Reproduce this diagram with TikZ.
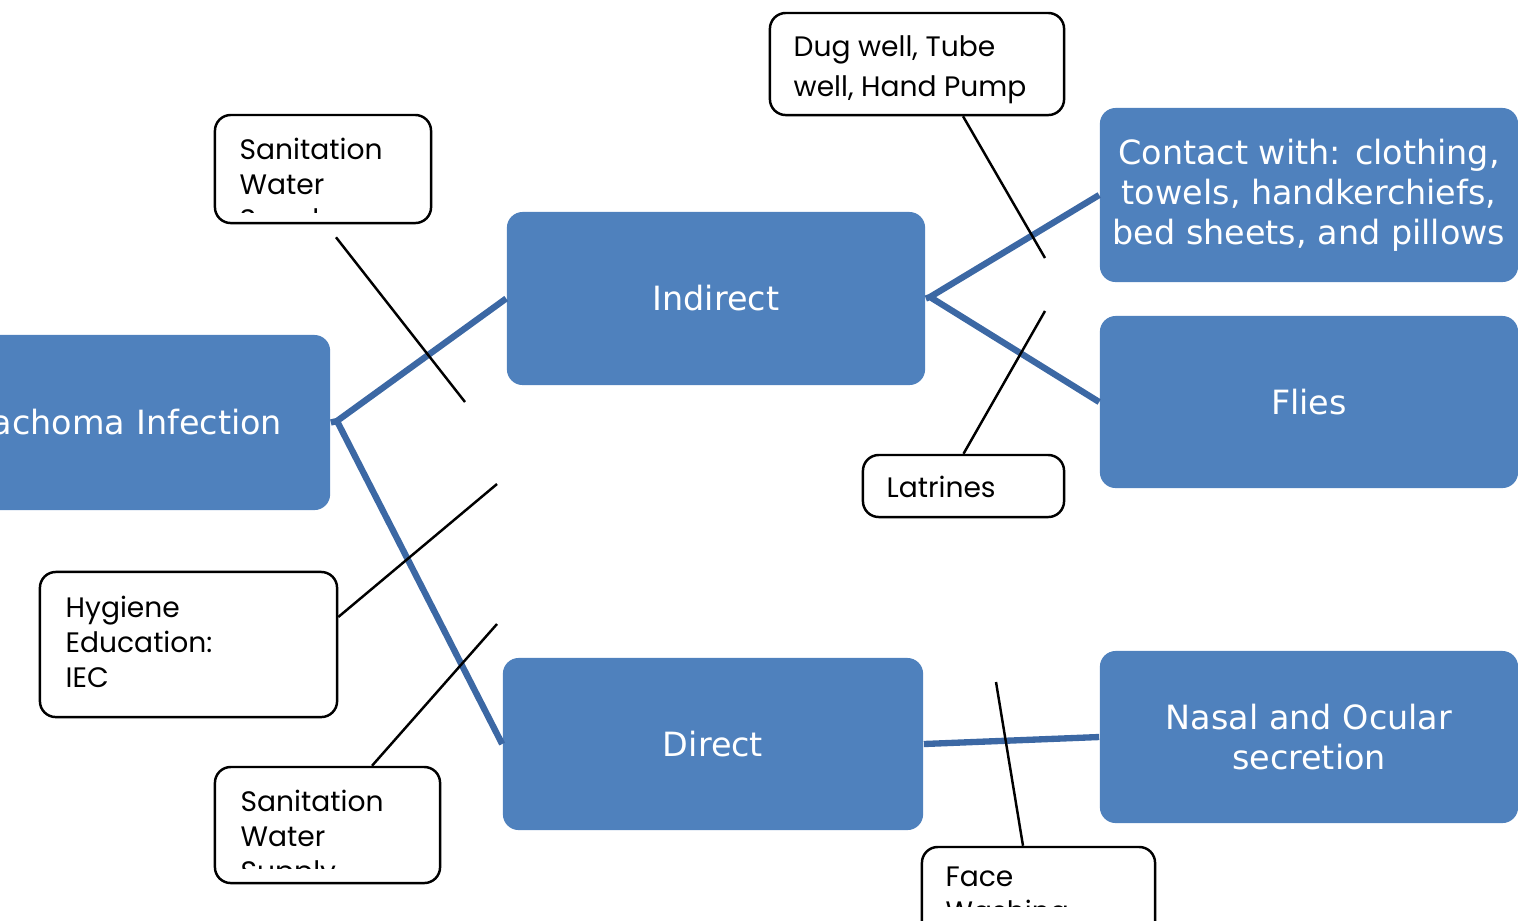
\documentclass[tikz,border=0pt]{standalone}
\usepackage{fontspec}
\usepackage{tikz}
\usetikzlibrary{calc}
\newfontfamily\causefont{DejaVu Sans}
\newfontfamily\notefont{Poppins}
\definecolor{boxblue}{HTML}{4F81BD}
\definecolor{linkblue}{HTML}{3C68A4}
\tikzset{
    cause/.style={
        rectangle,
        rounded corners=4.5pt,
        fill=boxblue,
        text=white,
        align=center,
        inner sep=0pt,
        font=\causefont\fontsize{9.5}{11.4}\selectfont,
    },
    note/.style={
        rectangle,
        rounded corners=4.5pt,
        draw=black,
        line width=0.7pt,
        fill=white,
        inner sep=0pt,
    },
    notetext/.style={
        anchor=north west,
        align=left,
        inner sep=0pt,
        font=\notefont\fontsize{8}{10}\selectfont,
    },
    link/.style={
        draw=linkblue,
        line width=1.8pt,
    },
    pointer/.style={
        draw=black,
        line width=0.7pt,
    },
}

\begin{document}
\begin{tikzpicture}[x=0.01cm, y=-0.01cm]

\useasboundingbox (0,0) rectangle (1518,920);

% Trachoma Infection
\node
[
    cause,
    text width=4.34cm,
    inner xsep=0.48cm,
    minimum height=1.75cm,
    align=right
] (trachoma) at (65,422.5)
{%
    Trachoma Infection%
};
% Indirect
\node
[
    cause,
    minimum width=4.18cm,
    minimum height=1.73cm
] (indirect) at (716,298.5)
{%
    Indirect%
};
% Direct
\node
[
    cause,
    minimum width=4.20cm,
    minimum height=1.72cm
] (direct) at (713,744)
{%
    Direct%
};
% Contact
\node
[
    cause,
    minimum width=4.18cm,
    minimum height=1.74cm
] (contact) at (1309,195)
{%
    Contact with: clothing,\\
    towels, handkerchiefs,\\
    bed sheets, and pillows%
};
% Flies
\node
[
    cause,
    minimum width=4.18cm,
    minimum height=1.72cm
] (flies) at (1309,402)
{%
    Flies%
};
% Nasal and Ocular
\node
[
    cause,
    minimum width=4.18cm,
    minimum height=1.72cm
] (nasal) at (1309,737)
{%
    Nasal and Ocular\\
    secretion%
};

% Links
\coordinate (hub_l) at (337,421);
\coordinate (hub_r) at (930,297);
\path [link]
    (trachoma.east) -- (hub_l)
    (hub_l) -- (indirect.west)
    (hub_l) -- (direct.west)
    (indirect.east) -- (hub_r)
    (hub_r) -- (contact.west)
    (hub_r) -- (flies.west)
    (direct.east) -- (nasal.west);

% Notes
\node [note, minimum width=2.16cm, minimum height=1.08cm] (san_a) at (323,169) {};
\node [note, minimum width=2.94cm, minimum height=1.02cm] (dug) at (917,64) {};
\node [note, minimum width=2.01cm, minimum height=0.62cm] (latrines) at (963.5,486) {};
\node [note, minimum width=2.97cm, minimum height=1.45cm] (hygiene) at (188.5,644.5) {};
\node [note, minimum width=2.25cm, minimum height=1.16cm] (san_b) at (327.5,825) {};
\node [note, minimum width=2.33cm, minimum height=1.13cm] (face) at (1038.5,903.5) {};

\begin{scope}
    \clip (216,116) rectangle (430,212);
    \node [notetext] (san_a_txt) at (239,137) {Sanitation\\ Water\\ Supply};
\end{scope}
\node [notetext, font=\notefont\fontsize{8}{11.4}\selectfont] (dug_txt) at (793,35) {Dug well, Tube\\ well, Hand Pump};
\node [notetext] (latrines_txt) at (886,475) {Latrines};
\node [notetext] (hygiene_txt) at (65,595) {Hygiene\\ Education:\\ IEC};
\begin{scope}
    \clip (216,768) rectangle (439,868);
    \node [notetext] (san_b_txt) at (240,789) {Sanitation\\ Water\\ Supply};
\end{scope}
\begin{scope}
    \clip (923,848) rectangle (1154,906);
    \node [notetext] (face_txt) at (945,866) {Face\\ Washing};
\end{scope}

% Pointers
\coordinate (tip_san_a) at (465,402);
\coordinate (tip_dug) at (1045,258);
\coordinate (tip_latrines) at (1045,311);
\coordinate (tip_hygiene) at (497,484);
\coordinate (tip_san_b) at (497,624);
\coordinate (tip_face) at (996,682);
\path [pointer]
    ([xshift=0.13cm, yshift=-0.13cm]san_a.south) -- (tip_san_a)
    ([xshift=0.46cm]dug.south) -- (tip_dug)
    (latrines.north) -- (tip_latrines)
    ([yshift=0.275cm]hygiene.east) -- (tip_hygiene)
    ([xshift=0.445cm]san_b.north) -- (tip_san_b)
    ([xshift=-0.155cm]face.north) -- (tip_face);

\end{tikzpicture}
\end{document}
